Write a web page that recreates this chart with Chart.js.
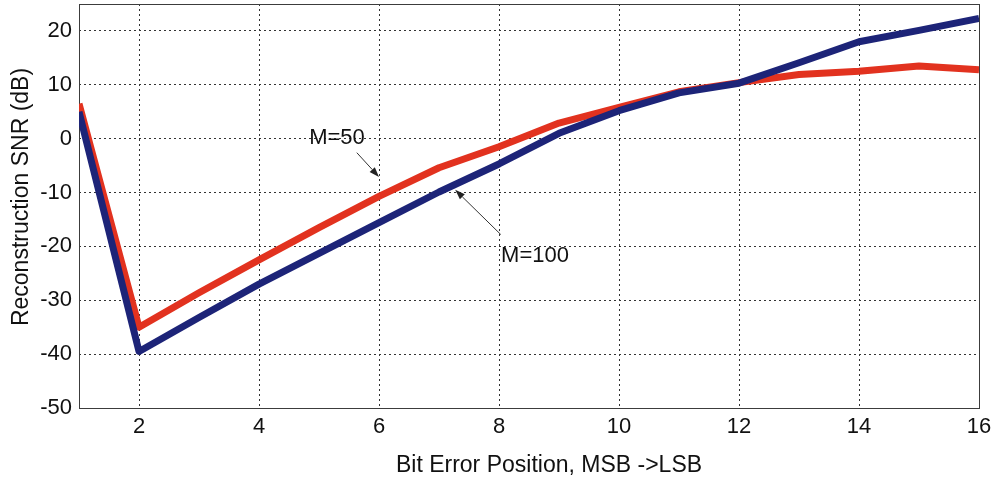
<!DOCTYPE html>
<html>
<head>
<meta charset="utf-8">
<script src="https://cdn.jsdelivr.net/npm/chart.js@4.4.1/dist/chart.umd.min.js"></script>
<style>
body { margin: 0; background: #fff; }
</style>
</head>
<body>
<canvas id="snrChart" width="995" height="480"></canvas>
<script>
// bit error position, MSB (1) -> LSB (16)
var bitPosition = [1, 2, 3, 4, 5, 6, 7, 8, 9, 10, 11, 12, 13, 14, 15, 16];
var snrM50  = [6.5, -35, -28.6, -22.5, -16.5, -10.7, -5.4, -1.5, 2.9, 5.8, 8.7, 10.4, 11.9, 12.5, 13.5, 12.8];
var snrM100 = [5, -39.5, -33.2, -27, -21.3, -15.6, -9.9, -4.7, 1.0, 5.2, 8.5, 10.3, 14.1, 18, 20.1, 22.3];
var xTickValues = [2, 4, 6, 8, 10, 12, 14, 16];
var yTickValues = [-50, -40, -30, -20, -10, 0, 10, 20];
var xTitle = 'Bit Error Position, MSB ->LSB';
var yTitle = 'Reconstruction SNR (dB)';

var fontName = '"Liberation Sans", Arial, Helvetica, sans-serif';

function toPoints(ys) {
	var pts = [];
	for (var i in bitPosition) {
		pts.push({x: bitPosition[i], y: ys[i]});
	}
	return pts;
}

// M=50 / M=100 callouts, placed in data units
var callouts = [
	{text: 'M=50',  at: [5.3, 0.2],    from: [5.63, -2.6],  to: [6.0, -7.1]},
	{text: 'M=100', at: [8.6, -21.8],  from: [8.03, -17.8], to: [7.27, -9.5]}
];

function drawArrow(ctx, x1, y1, x2, y2) {
	var ang = Math.atan2(y2 - y1, x2 - x1);
	var len = 10, half = 3.5;
	var bx = x2 - len * Math.cos(ang), by = y2 - len * Math.sin(ang);
	ctx.beginPath();
	ctx.moveTo(x1, y1);
	ctx.lineTo(bx, by);
	ctx.stroke();
	ctx.beginPath();
	ctx.moveTo(x2, y2);
	ctx.lineTo(bx - half * Math.sin(ang), by + half * Math.cos(ang));
	ctx.lineTo(bx + half * Math.sin(ang), by - half * Math.cos(ang));
	ctx.closePath();
	ctx.fill();
}

var plotExtras = {
	id: 'plotExtras',
	beforeDatasetsDraw: function(chart) {
		var ctx = chart.ctx, a = chart.chartArea;
		ctx.save();
		// box round the plot area
		ctx.strokeStyle = '#3c3c3c';
		ctx.lineWidth = 1;
		ctx.strokeRect(Math.round(a.left) + 0.5, Math.round(a.top) + 0.5,
			Math.round(a.right - a.left), Math.round(a.bottom - a.top));
		// axis titles
		ctx.fillStyle = '#111';
		ctx.font = '23px ' + fontName;
		ctx.textAlign = 'center';
		ctx.textBaseline = 'middle';
		ctx.fillText(xTitle, (a.left + a.right) / 2 + 20, 466);
		ctx.translate(22, (a.top + a.bottom) / 2 - 9);
		ctx.rotate(-Math.PI / 2);
		ctx.fillText(yTitle, 0, 0);
		ctx.restore();
	},
	afterDatasetsDraw: function(chart) {
		var ctx = chart.ctx;
		var xs = chart.scales.x, ys = chart.scales.y;
		ctx.save();
		ctx.font = '22px ' + fontName;
		ctx.textAlign = 'center';
		ctx.textBaseline = 'middle';
		ctx.strokeStyle = '#333';
		ctx.lineWidth = 1;
		for (var i in callouts) {
			var c = callouts[i];
			ctx.fillStyle = '#111';
			ctx.fillText(c.text, xs.getPixelForValue(c.at[0]), ys.getPixelForValue(c.at[1]));
			ctx.fillStyle = '#222';
			drawArrow(ctx,
				xs.getPixelForValue(c.from[0]), ys.getPixelForValue(c.from[1]),
				xs.getPixelForValue(c.to[0]), ys.getPixelForValue(c.to[1]));
		}
		ctx.restore();
	}
};

var gridStyle = {color: '#333', lineWidth: 1, drawTicks: false};

var ctx = document.getElementById('snrChart');
var snrChart = new Chart(ctx, {
	type: 'line',
	data: {
		datasets: [{
			label: 'M=50',
			data: toPoints(snrM50),
			borderColor: '#e2321f',
			borderWidth: 7,
			order: 1
		}, {
			label: 'M=100',
			data: toPoints(snrM100),
			borderColor: '#1d2478',
			borderWidth: 7,
			order: 0
		}]
	},
	options: {
		responsive: false,
		animation: false,
		layout: {padding: {top: 4, right: 16, left: 0, bottom: 0}},
		elements: {
			point: {radius: 0},
			line: {tension: 0, borderJoinStyle: 'round', borderCapStyle: 'butt'}
		},
		plugins: {legend: {display: false}, tooltip: {enabled: false}},
		scales: {
			x: {
				type: 'linear',
				min: 1,
				max: 16,
				grid: gridStyle,
				border: {display: false, dash: [2, 3]},
				ticks: {
					autoSkip: false,
					maxRotation: 0,
					padding: 6,
					color: '#111',
					font: {family: fontName, size: 22},
					callback: function(v) { return String(v); }
				},
				afterBuildTicks: function(scale) {
					scale.ticks = xTickValues.map(function(v) { return {value: v}; });
				},
				afterFit: function(scale) {
					scale.height = 72;
					scale.paddingLeft = 0;
					scale.paddingRight = 0;
				}
			},
			y: {
				min: -50,
				max: 25,
				grid: gridStyle,
				border: {display: false, dash: [2, 3]},
				ticks: {
					padding: 7,
					color: '#111',
					font: {family: fontName, size: 22},
					callback: function(v) { return String(v); }
				},
				afterBuildTicks: function(scale) {
					scale.ticks = yTickValues.map(function(v) { return {value: v}; });
				},
				afterFit: function(scale) {
					scale.width = 79;
					scale.paddingTop = 0;
					scale.paddingBottom = 0;
				}
			}
		}
	},
	plugins: [plotExtras]
});
</script>
</body>
</html>
